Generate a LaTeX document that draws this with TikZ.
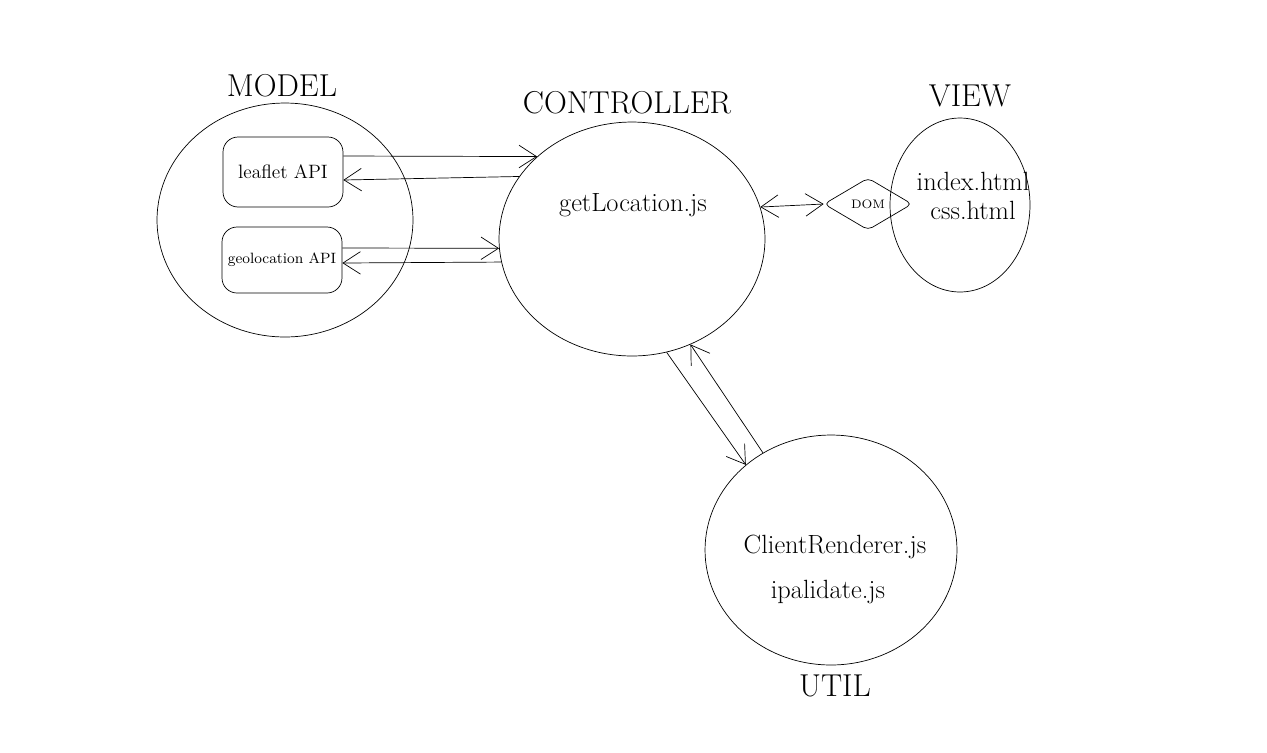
\documentclass[tikz,border=0pt]{standalone}
\usepackage{amsmath}
\usepackage{tikz}
\usetikzlibrary{shapes.geometric,arrows.meta}

\begin{document}
\begin{tikzpicture}[x=0.02cm,y=-0.02cm,
        part/.style={draw,ellipse,inner sep=0pt},
        api/.style={draw,rounded corners=3mm,minimum width=2.4cm,inner sep=0pt},
        title/.style={font=\fontsize{18}{20}\selectfont},
        file/.style={font=\fontsize{15}{19}\selectfont,align=center},
        link/.style={-{Straight Barb[length=3.5mm,width=4.5mm]}},
        both/.style={{Straight Barb[length=3.5mm,width=4.5mm]}-{Straight Barb[length=3.5mm,width=4.5mm]}}]
            \useasboundingbox (0,0) rectangle (1267,752);

            % model
            \node[part,minimum width=5.12cm,minimum height=4.68cm] (model) at (285,220) {};
            \node[title] (modelt) at (282,86) {MODEL};
            \node[api,minimum height=1.4cm,font=\fontsize{11}{13}\selectfont] (leaflet) at (283,172) {leaflet API};
            \node[api,minimum height=1.32cm,font=\fontsize{8.5}{10}\selectfont] (geoloc) at (282,260) {geolocation API};

            % controller
            \node[part,minimum width=5.32cm,minimum height=4.68cm] (ctrl) at (632,239) {};
            \node[title] (ctrlt) at (627,103) {CONTROLLER};
            \node[file] (getloc) at (633,205) {getLocation.js};

            % view
            \node[part,minimum width=2.8cm,minimum height=3.48cm] (view) at (960,205) {};
            \node[title] (viewt) at (970,96) {VIEW};
            \node[file] (html) at (973,196) {index.html\\[-2pt]css.html};
            \node[draw,diamond,rounded corners=1mm,minimum width=1.76cm,minimum height=1.04cm,
                  shape aspect=1.7,inner sep=0pt,font=\fontsize{7}{8}\selectfont] (dom) at (868,204) {DOM};

            % util
            \node[part,minimum width=5.04cm,minimum height=4.6cm] (util) at (831,550) {};
            \node[title] (utilt) at (835,686) {UTIL};
            \node[file] (client) at (835,547) {ClientRenderer.js};
            \node[file] (ipval) at (828,592) {ipalidate.js};

            % connections
            \draw[link]([yshift=0.32cm]leaflet.east)--(ctrl.139);
            \draw[link](ctrl.151)--([yshift=-0.16cm]leaflet.east);
            \draw[link]([yshift=0.24cm]geoloc.east)--(ctrl.184);
            \draw[link](ctrl.190)--([yshift=-0.06cm]geoloc.east);
            \draw[both](ctrl.14)--(dom.west);
            \draw[link](ctrl.-73)--(util.135);
            \draw[link](util.125)--(ctrl.-61);

        \end{tikzpicture}
\end{document}
